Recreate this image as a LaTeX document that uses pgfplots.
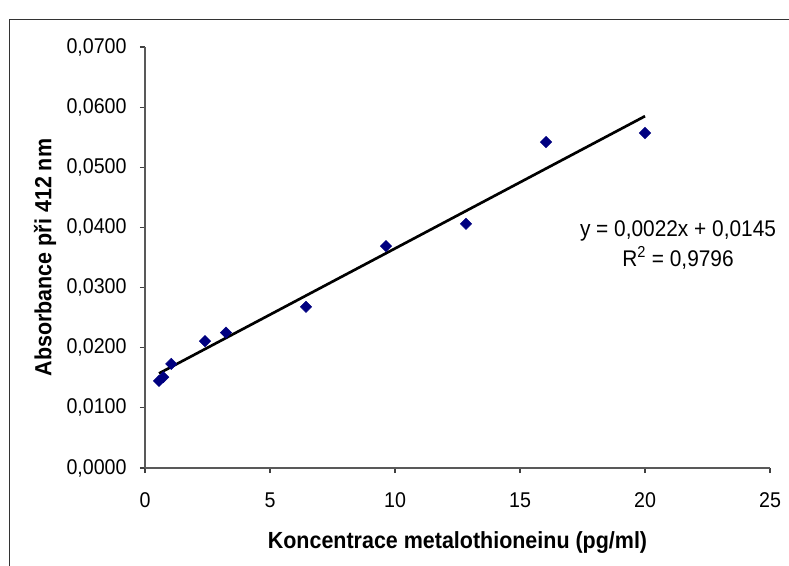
\documentclass[border=0pt]{standalone}
\usepackage{fontspec}
\setmainfont{Liberation Sans}[FakeStretch=0.92]
\usepackage{pgfplots}
\pgfplotsset{compat=1.18}
\definecolor{navypt}{HTML}{000080}
\begin{document}
\begin{tikzpicture}
\useasboundingbox (0,0) rectangle (591.75pt,-423.75pt);
\draw[line width=1.1pt, black!80] (7.1pt,-430pt) -- (7.1pt,-14.6pt) -- (600pt,-14.6pt);
\begin{axis}[
  at={(108.75pt,-351pt)}, anchor=south west,
  scale only axis, width=468.75pt, height=315.75pt,
  xmin=0, xmax=25, ymin=0, ymax=0.07,
  xtick={0,5,...,25}, ytick={0,0.01,...,0.07},
  scaled y ticks=false,
  axis x line=bottom, axis y line=left,
  axis line style={-, black!65, line width=0.9pt},
  tick style={black!75, line width=0.9pt},
  tick align=outside, major tick length=3.8pt,
  every tick label/.append style={font=\fontsize{16}{19}\selectfont},
  /pgf/number format/assume math mode=true,
  yticklabel style={xshift=-6.5pt, /pgf/number format/.cd, fixed, zerofill, precision=4, use comma},
  xticklabel style={yshift=-11pt, /pgf/number format/.cd, fixed, use comma},
  xlabel={Koncentrace metalothioneinu (pg/ml)},
  ylabel={Absorbance při 412 nm},
  label style={font=\bfseries\fontsize{17.5}{20}\selectfont},
  xlabel style={at={(axis description cs:0.5,0)}, anchor=north, yshift=-44pt},
  ylabel style={at={(axis description cs:-0.16,0.5)}, anchor=center},
  clip=false,
]
\addplot[line width=2pt, black] coordinates {(0.56,0.01573) (20,0.0585)};
\addplot[only marks, mark=square*, mark size=3pt,
  mark options={rotate=45, fill=navypt, draw=navypt}] coordinates {
  (0.56,0.01448) (0.73,0.0151) (1.05,0.0173) (2.4,0.0211) (3.24,0.0225)
  (6.44,0.0268) (9.64,0.0369) (12.84,0.0406) (16.04,0.0542) (20,0.0557)};
\node[align=center, font=\fontsize{17}{22.5}\selectfont]
  at (axis cs:21.32,0.0371) {y = 0,0022x + 0,0145\\R\textsuperscript{2} = 0,9796};
\end{axis}
\end{tikzpicture}
\end{document}
